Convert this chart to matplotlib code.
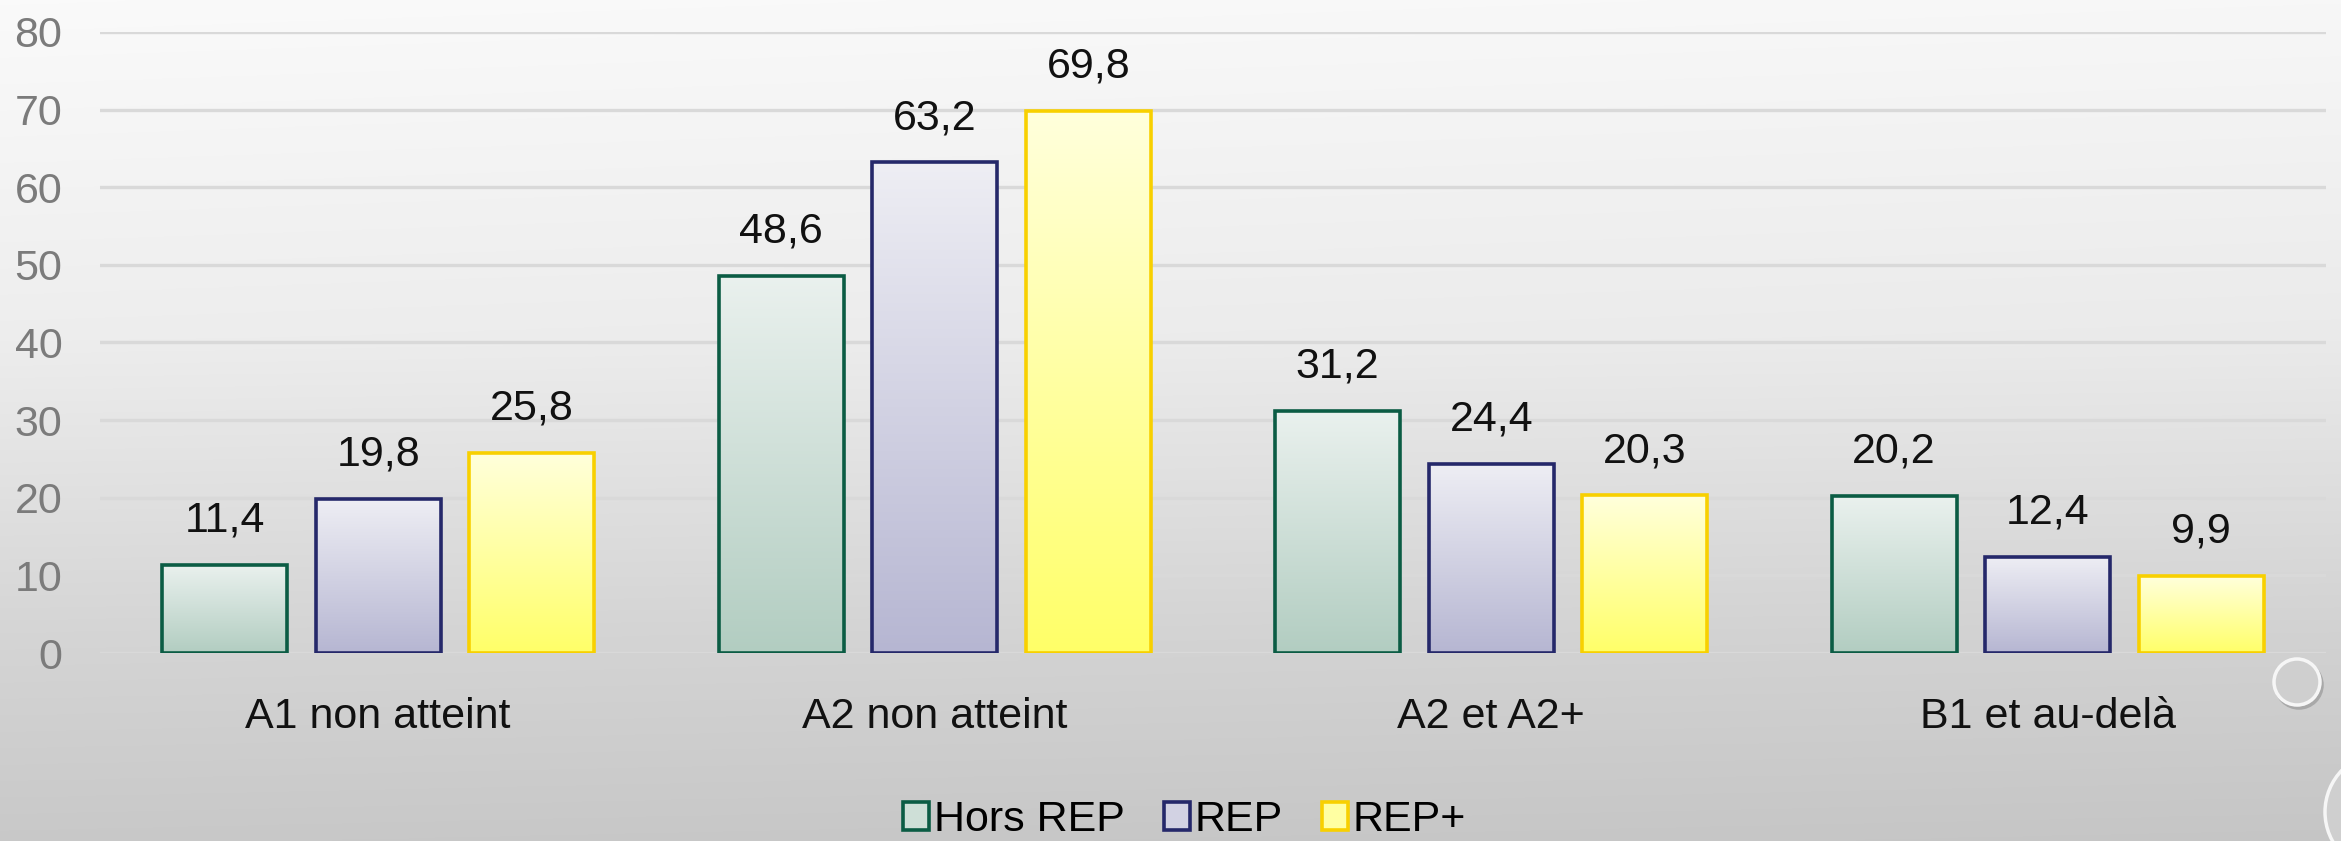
#!/usr/bin/env python3
"""Bar chart: niveau atteint par secteur (Hors REP / REP / REP+)."""

import matplotlib

matplotlib.use("Agg")
import matplotlib.pyplot as plt
import numpy as np
from matplotlib import font_manager
from matplotlib.patches import Ellipse, Patch

categories = ["A1 non atteint", "A2 non atteint", "A2 et A2+", "B1 et au-delà"]
series_names = ["Hors REP", "REP", "REP+"]
hors_rep = [11.4, 48.6, 31.2, 20.2]
rep = [19.8, 63.2, 24.4, 12.4]
rep_plus = [25.8, 69.8, 20.3, 9.9]
y_ticks = [0, 10, 20, 30, 40, 50, 60, 70, 80]

# edge colour, gradient top, gradient bottom
STYLES = [
    ("#0b5c44", "#eaf1ee", "#b2cdc1"),
    ("#25286a", "#eeeef4", "#b6b6d2"),
    ("#f8d000", "#ffffdc", "#ffff68"),
]

names = {f.name for f in font_manager.fontManager.ttflist}
if "Liberation Sans Narrow" in names:
    FONT = ["Liberation Sans Narrow", "DejaVu Sans"]
    FS = 35
else:
    FONT = ["Liberation Sans", "DejaVu Sans"]
    FS = 31
plt.rcParams["font.family"] = FONT

W, H = 2341, 841


def hex_rgb(h):
    return np.array(matplotlib.colors.to_rgb(h))


def vertical_gradient(top, bottom, n=256):
    t = np.linspace(0, 1, n)[:, None]
    col = (1 - t) * hex_rgb(top) + t * hex_rgb(bottom)
    return col[:, None, :]


fig = plt.figure(figsize=(W / 100, H / 100), dpi=100)

# slide background
bg = fig.add_axes([0, 0, 1, 1], zorder=-5)
yy = np.linspace(0, 1, 400)
shade = np.interp(yy, [0, 0.4, 0.75, 1], [0.975, 0.925, 0.83, 0.78])
xx = np.linspace(0, 1, 200)
img = shade[:, None] + 0.012 * (0.5 - xx[None, :])
bg.imshow(np.dstack([img, img, img]).clip(0, 1), aspect="auto", extent=[0, 1, 0, 1])
bg.set_axis_off()
bg.set_xlim(0, 1)
bg.set_ylim(0, 1)
# template droplets (pixel centre, radius)
for cx, cy, r in [(2297, 682, 23), (2385, 812, 60)]:
    for dx, dy, fc, ec in [(2, -3, "none", "#a8a8a8"), (0, 0, "#cfcfcf", "#f6f6f6")]:
        bg.add_patch(Ellipse(((cx + dx) / W, 1 - (cy - dy) / H), 2 * r / W, 2 * r / H,
                             transform=bg.transAxes, facecolor=fc, edgecolor=ec,
                             linewidth=2.5))

ax = fig.add_axes([0.0427, 0.2235, 0.9509, 0.7385])
ax.set_facecolor("none")

x = np.arange(len(categories))
step = 0.276
width = 0.225
series = [hors_rep, rep, rep_plus]

for i, (vals, (edge, top, bottom)) in enumerate(zip(series, STYLES)):
    bars = ax.bar(x + (i - 1) * step, vals, width, facecolor="none",
                  edgecolor=edge, linewidth=2.6, zorder=4)
    grad = vertical_gradient(top, bottom)
    for b in bars:
        ax.imshow(grad, extent=[b.get_x(), b.get_x() + b.get_width(), 0, b.get_height()],
                  aspect="auto", zorder=3, interpolation="bilinear")
    for b, v in zip(bars, vals):
        ax.annotate(f"{v:.1f}".replace(".", ","),
                    (b.get_x() + b.get_width() / 2, b.get_height()),
                    xytext=(0, 24), textcoords="offset points",
                    ha="center", va="baseline", fontsize=FS, color="#111111")

ax.set_xlim(-0.5, len(categories) - 0.5)
ax.set_ylim(0, 80)
ax.set_yticks(y_ticks)
ax.yaxis.grid(True, color="#d9d9d9", linewidth=2.4, zorder=0)
ax.set_axisbelow(True)
ax.set_xticks(x)
ax.set_xticklabels(categories)
ax.tick_params(axis="y", length=0, pad=27, labelsize=FS, labelcolor="#7b7b7b")
ax.tick_params(axis="x", length=0, pad=32, labelsize=FS, labelcolor="#111111")
for s in ax.spines.values():
    s.set_visible(False)

handles = [Patch(facecolor=vertical_gradient(t, b)[128, 0], edgecolor=e, linewidth=2.6)
           for e, t, b in STYLES]
fig.legend(handles, series_names, loc="lower center", bbox_to_anchor=(0.506, -0.045),
           ncol=3, frameon=False, fontsize=FS, handlelength=0.6, handleheight=0.65,
           handletextpad=0.12, columnspacing=0.9)

fig.savefig("out.png", dpi=100)
